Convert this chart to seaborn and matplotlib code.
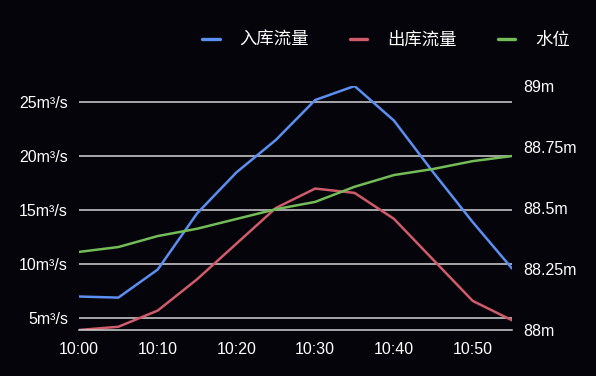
import pandas as pd
import numpy as np
import matplotlib
matplotlib.use('Agg')
import matplotlib.pyplot as plt
import matplotlib.dates as mdates
from matplotlib.ticker import FixedLocator, FuncFormatter
import seaborn as sns

# 数据
times = ['10:00', '10:05', '10:10', '10:15', '10:20', '10:25',
         '10:30', '10:35', '10:40', '10:45', '10:50', '10:55']
inflow = [7.0, 6.9, 9.5, 14.7, 18.5, 21.5, 25.2, 26.5, 23.3, 18.5, 13.9, 9.6]
outflow = [3.9, 4.2, 5.7, 8.6, 11.9, 15.2, 17.0, 16.6, 14.2, 10.4, 6.6, 4.8]
level = [88.32, 88.34, 88.385, 88.415, 88.455, 88.495,
         88.525, 88.587, 88.635, 88.66, 88.692, 88.713]

left_ticks = [5, 10, 15, 20, 25]
right_ticks = [88, 88.25, 88.5, 88.75, 89]

BG = '#05040a'
FG = '#ffffff'
GRID = '#d2d2d2'
C_IN = '#5b8ff0'
C_OUT = '#cf5b6b'
C_LVL = '#73bc58'

sns.set_style('dark')
plt.rcParams['font.family'] = ['Liberation Sans', 'Noto Sans CJK SC', 'DejaVu Sans']
plt.rcParams['font.size'] = 11.5

df = pd.DataFrame({
    'time': pd.to_datetime(['2024-01-01 ' + t for t in times]),
    'inflow': inflow,
    'outflow': outflow,
    'level': level,
})

fig = plt.figure(figsize=(5.96, 3.76), dpi=100, facecolor=BG)
ax = fig.add_axes([79 / 596, 1 - 330 / 376, (512 - 79) / 596, (330 - 86) / 376])
ax.set_facecolor(BG)
ax2 = ax.twinx()

sns.lineplot(data=df, x='time', y='inflow', ax=ax, color=C_IN, linewidth=1.8, label='入库流量', legend=False)
sns.lineplot(data=df, x='time', y='outflow', ax=ax, color=C_OUT, linewidth=1.8, label='出库流量', legend=False)
sns.lineplot(data=df, x='time', y='level', ax=ax2, color=C_LVL, linewidth=1.8, label='水位', legend=False)

ax.set_xlim(df['time'].iloc[0], df['time'].iloc[-1])
ax.set_ylim(min(outflow), max(inflow))
ax2.set_ylim(88, 89)

ax.xaxis.set_major_locator(mdates.MinuteLocator(byminute=range(0, 60, 10)))
ax.xaxis.set_major_formatter(mdates.DateFormatter('%H:%M'))

ax.yaxis.set_major_locator(FixedLocator(left_ticks))
ax.yaxis.set_major_formatter(FuncFormatter(lambda v, p: f'{v:g}m³/s'))
ax2.yaxis.set_major_locator(FixedLocator(right_ticks))
ax2.yaxis.set_major_formatter(FuncFormatter(lambda v, p: f'{v:g}m'))

ax.grid(axis='y', color=GRID, linewidth=1.1)
ax.grid(axis='x', visible=False)
ax2.grid(False)
ax.set_axisbelow(True)

for a in (ax, ax2):
    for s in a.spines.values():
        s.set_visible(False)
    a.set_xlabel('')
    a.set_ylabel('')
ax.spines['bottom'].set_visible(True)
ax.spines['bottom'].set_color(GRID)
ax.spines['bottom'].set_linewidth(1.1)

ax.tick_params(axis='x', colors=GRID, labelcolor=FG, length=5, width=1, pad=4, labelsize=11.5)
ax.tick_params(axis='y', length=0, labelcolor=FG, pad=8, labelsize=11.5)
ax2.tick_params(axis='y', length=0, labelcolor=FG, pad=8, labelsize=11.5)

handles = ax.get_lines()[:2] + ax2.get_lines()[:1]
leg = fig.legend(handles, ['入库流量', '出库流量', '水位'], loc='center right',
                 bbox_to_anchor=(0.982, 1 - 40 / 376), ncol=3, frameon=False,
                 labelcolor=FG, prop={'family': ['Noto Sans CJK SC', 'DejaVu Sans'], 'size': 12.5},
                 handlelength=1.0, handletextpad=1.15, columnspacing=2.35)
for h in leg.legend_handles:
    h.set_linewidth(2.4)

fig.savefig('out.png', dpi=100, facecolor=BG)
